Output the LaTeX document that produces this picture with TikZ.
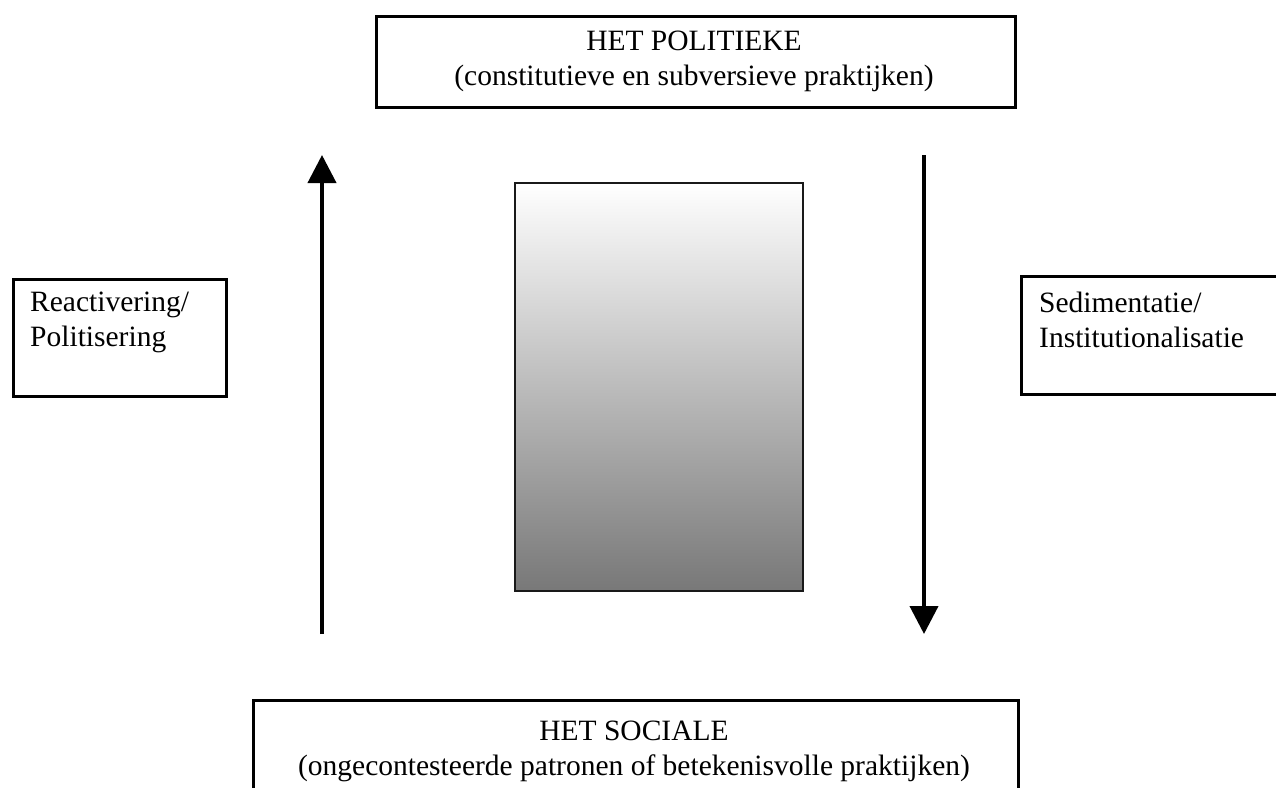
\documentclass[tikz,border=0pt]{standalone}
\usepackage{fontspec}
\setmainfont{Liberation Serif}
\usetikzlibrary{arrows.meta}

\begin{document}
\begin{tikzpicture}[x=1pt,y=-1pt]
\tikzstyle{kader} = [draw, line width=3pt, inner sep=0pt, anchor=north west]
\tikzstyle{tekst} = [inner sep=0pt, font=\fontsize{29.5}{35}\selectfont]
\tikzstyle{pijl} = [line width=4pt, -{Triangle[width=28pt,length=28pt]}]
\useasboundingbox (0,0) rectangle (1276,787);
\clip (0,0) rectangle (1276,787);
% kaders
\node[kader, minimum width=639pt, minimum height=91pt] (politiek) at (374.5,14.5) {};
\node[kader, minimum width=213pt, minimum height=117pt] (reactief) at (11.5,277.5) {};
\node[kader, minimum width=300pt, minimum height=118pt] (sediment) at (1019.5,274.5) {};
\node[kader, minimum width=765pt, minimum height=200pt] (sociaal) at (251.5,698.5) {};
% teksten
\node[tekst, align=center, anchor=north] (politiektekst) at (694,31) {HET POLITIEKE\\(constitutieve en subversieve praktijken)};
\node[tekst, align=left, anchor=north west] (reactieftekst) at (30,292) {Reactivering/\\Politisering};
\node[tekst, align=left, anchor=north west] (sedimenttekst) at (1039,292) {Sedimentatie/\\Institutionalisatie};
\node[tekst, align=center, anchor=north] (sociaaltekst) at (634,721) {HET SOCIALE\\(ongecontesteerde patronen of betekenisvolle praktijken)};
% vlak met verloop
\node[draw=black!90, line width=2pt, top color=white, bottom color=black!53, minimum width=288pt, minimum height=408pt, anchor=north west, inner sep=0pt] (vlak) at (514,182) {};
% pijlen
\coordinate (opOnder) at (322,634);
\coordinate (opBoven) at (322,155);
\coordinate (neerBoven) at (924,155);
\coordinate (neerOnder) at (924,634);
\draw[pijl] (opOnder) -- (opBoven);
\draw[pijl] (neerBoven) -- (neerOnder);
\end{tikzpicture}
\end{document}
